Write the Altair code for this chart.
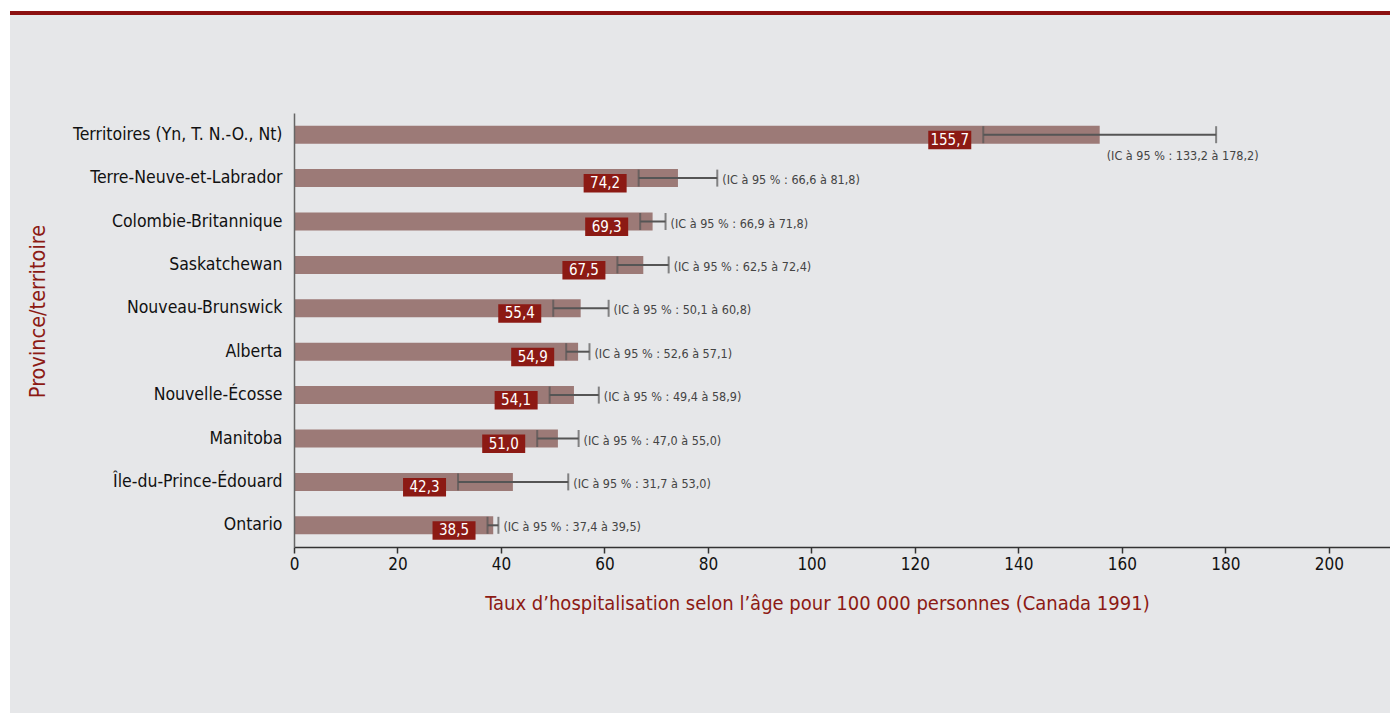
import altair as alt
import pandas as pd

cats = ["Territoires (Yn, T. N.-O., Nt)", "Terre-Neuve-et-Labrador", "Colombie-Britannique",
        "Saskatchewan", "Nouveau-Brunswick", "Alberta", "Nouvelle-Écosse", "Manitoba",
        "Île-du-Prince-Édouard", "Ontario"]
rates = [155.7, 74.2, 69.3, 67.5, 55.4, 54.9, 54.1, 51.0, 42.3, 38.5]
lows = [133.2, 66.6, 66.9, 62.5, 50.1, 52.6, 49.4, 47.0, 31.7, 37.4]
highs = [178.2, 81.8, 71.8, 72.4, 60.8, 57.1, 58.9, 55.0, 53.0, 39.5]
ticks = [0, 20, 40, 60, 80, 100, 120, 140, 160, 180, 200]


def fr(v):
    return f"{v:.1f}".replace(".", ",")


df = pd.DataFrame({
    "cat": cats, "rate": rates, "low": lows, "high": highs,
    "lab": [fr(v) for v in rates],
    "ci": [f"(IC à 95 % : {fr(a)} à {fr(b)})" for a, b in zip(lows, highs)],
})

FONT = "Liberation Sans Narrow, DejaVu Sans Condensed, sans-serif"
BAR = "#9c7a77"
RED = "#8c1a14"
W, H = 1096, 434

x = alt.X("rate:Q", scale=alt.Scale(domain=[0, 211.8], nice=False),
          axis=alt.Axis(values=ticks, title="Taux d’hospitalisation selon l’âge pour 100 000 personnes (Canada 1991)",
                        grid=False, tickSize=6, labelPadding=3, labelFontSize=17, labelColor="#111",
                        labelFont=FONT, domainColor="#333", tickColor="#333", domainWidth=1.5,
                        tickWidth=1.5, labelFlush=False,
                        titleFont=FONT, titleFontSize=20, titleColor=RED, titleFontWeight="normal",
                        titleX=523, titleY=56, titleAlign="center", titleBaseline="middle", zindex=2))
y = alt.Y("cat:N", sort=None,
          axis=alt.Axis(title="Province/territoire", ticks=False, labelPadding=12, labelFontSize=17.5,
                        labelFont=FONT, labelColor="#111", domainColor="#666", domainWidth=1.5,
                        titleFont=FONT, titleFontSize=21.5, titleColor=RED, titleFontWeight="normal",
                        titleX=-256, titleY=198, titleAlign="center", titleBaseline="middle",
                        labelLimit=400, zindex=2))

base = alt.Chart(df)

bg = alt.Chart(df).mark_rect(color="#e6e7e9").encode(
    x=alt.value(-284), x2=alt.value(W), y=alt.value(-98), y2=alt.value(H + 170))
topline = alt.Chart(df).mark_rule(color="#8b1010", strokeWidth=3).encode(
    x=alt.value(-284), x2=alt.value(W), y=alt.value(-100))

bars = base.mark_bar(color=BAR, size=18).encode(x=x, y=y)
whisk = base.mark_rule(color="#555", strokeWidth=2).encode(x="low:Q", x2="high:Q", y=y)
cap1 = base.mark_tick(color="#555", thickness=2, size=17).encode(x="low:Q", y=y)
cap2 = base.mark_tick(color="#555", thickness=2, size=17).encode(x="high:Q", y=y)

boxpath = "M -0.9167 -0.0667 L -0.2 -0.0667 L -0.2 0.2417 L -0.9167 0.2417 Z"
box = base.mark_point(shape=boxpath, filled=True, color=RED, opacity=1, size=14400, strokeWidth=0).encode(
    x="low:Q", y=y)
val = base.mark_text(color="white", fontSize=15, font=FONT, dx=-33.5, dy=5, baseline="middle",
                     align="center").encode(x="low:Q", y=y, text="lab:N")

ci_side = base.transform_filter("datum.high < 150").mark_text(
    color="#444", fontSize=12.5, font=FONT, dx=5, dy=2, align="left", baseline="middle").encode(
    x="high:Q", y=y, text="ci:N")
ci_below = base.transform_filter("datum.high >= 150").mark_text(
    color="#444", fontSize=12.5, font=FONT, dx=7, dy=21, align="left", baseline="middle").encode(
    x="rate:Q", y=y, text="ci:N")

chart = alt.layer(bg, topline, bars, whisk, cap1, cap2, box, val, ci_side, ci_below).properties(
    width=W, height=H,
    autosize=alt.AutoSizeParams(type="none"),
    padding={"left": 294, "top": 113, "right": 0, "bottom": 166},
    background="white",
).configure_view(stroke=None)

chart.save("out.html", embed_options={"renderer": "svg", "actions": False})
